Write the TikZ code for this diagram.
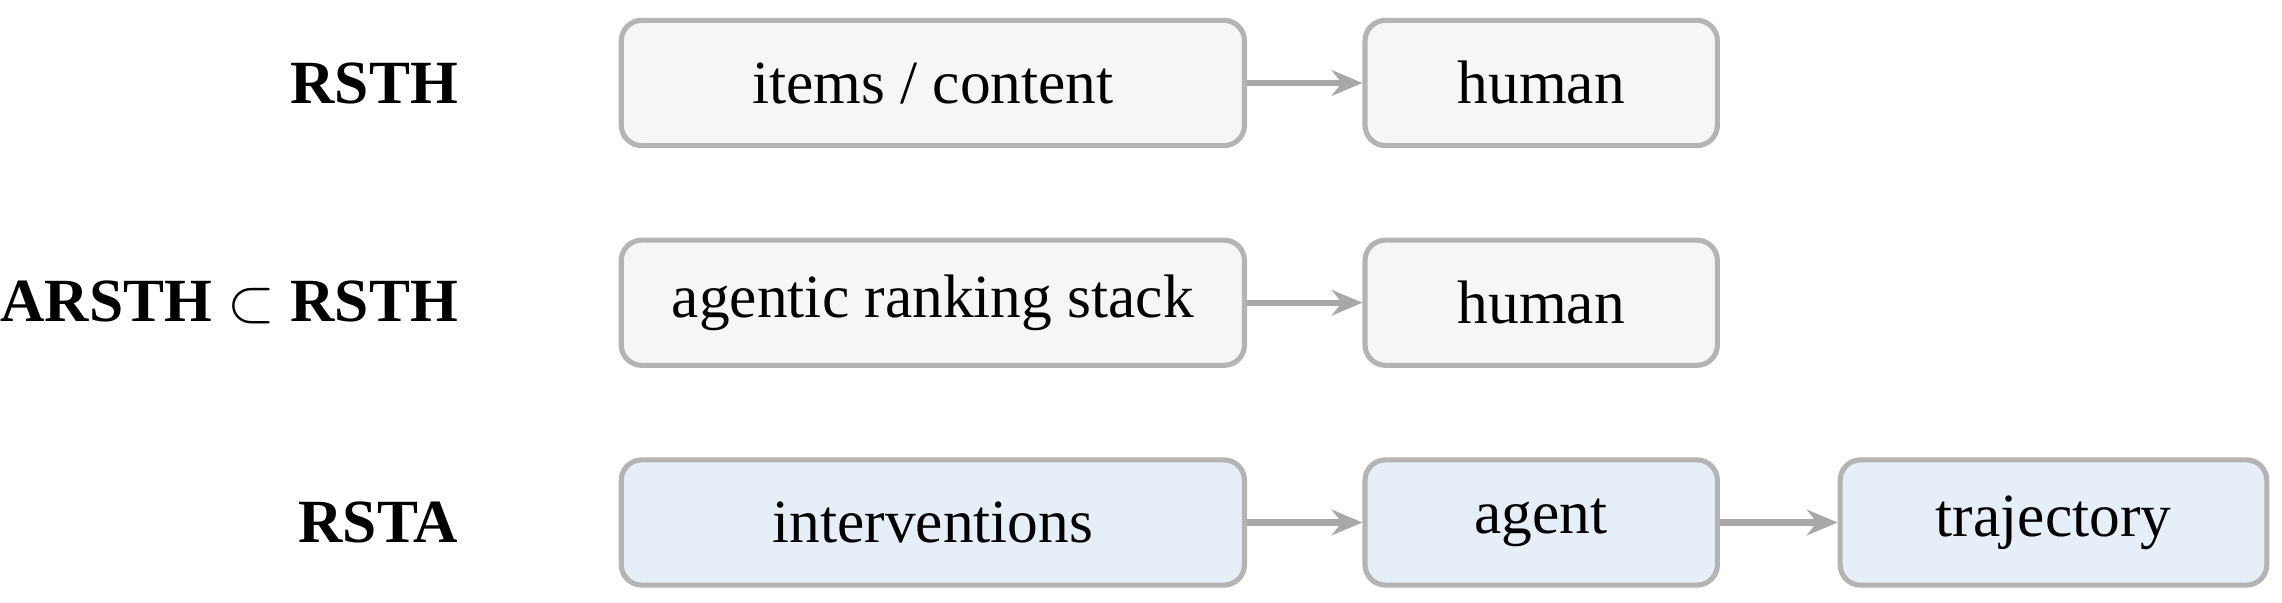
\documentclass[tikz,border=0pt]{standalone}
\usepackage{fontspec}
\setmainfont{Liberation Serif}
\usetikzlibrary{positioning, arrows.meta}
\definecolor{boxline}{HTML}{B4B4B4}
\definecolor{humanfill}{HTML}{F5F6F8}
\definecolor{agentfill}{HTML}{E6EEF8}
\definecolor{arrowgray}{HTML}{A8A8A8}

\begin{document}
\begin{tikzpicture}[x=0.01cm, y=-0.01cm,
    box/.style = {draw=boxline, line width=1pt, rounded corners=4pt, minimum height=0.86cm, font=\fontsize{12}{14}\selectfont},
    hbox/.style = {box, fill=humanfill},
    abox/.style = {box, fill=agentfill},
    rowlabel/.style = {anchor=east, font=\fontsize{12}{14}\selectfont\bfseries},
    flow/.style = {->, >={Stealth[length=6pt, width=5pt]}, draw=arrowgray, line width=1.2pt}]
  \useasboundingbox (0,0) rectangle (1568,414);
  % row 1
  \node[rowlabel] (l1) at (327,57) {RSTH};
  \node[hbox, minimum width=4.28cm] (items) at (641,57) {items / content};
  \node[hbox, minimum width=2.42cm] (human1) at (1059,57) {human};
  % row 2
  \node[rowlabel] (l2) at (327,208) {ARSTH $\subset$ RSTH};
  \node[hbox, minimum width=4.28cm] (stack) at (641,208) {agentic ranking stack};
  \node[hbox, minimum width=2.42cm] (human2) at (1059,208) {human};
  % row 3
  \node[rowlabel] (l3) at (327,359) {RSTA};
  \node[abox, minimum width=4.28cm] (interv) at (641,359) {interventions};
  \node[abox, minimum width=2.42cm] (agent) at (1059,359) {agent};
  \node[abox, minimum width=2.93cm] (traj) at (1411,359) {trajectory};

  \draw[flow] (items) -- (human1);
  \draw[flow] (stack) -- (human2);
  \draw[flow] (interv) -- (agent);
  \draw[flow] (agent) -- (traj);
\end{tikzpicture}
\end{document}
